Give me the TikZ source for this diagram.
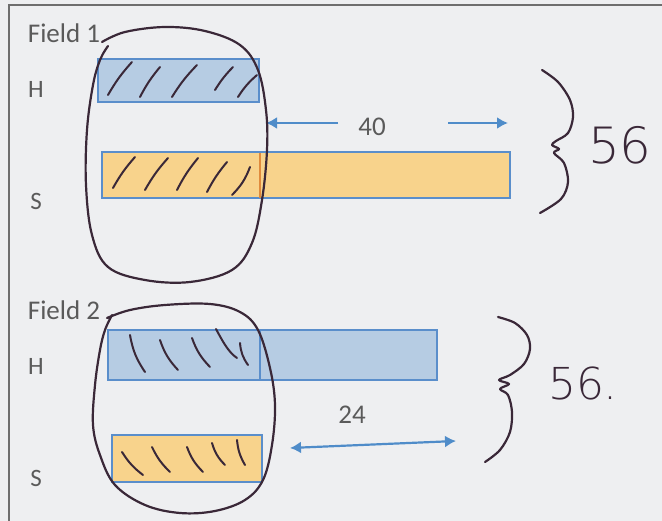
\documentclass[tikz,border=0pt]{standalone}
\usepackage{fontspec}
\setmainfont{Carlito}
\newfontfamily\handfont{DejaVu Sans ExtraLight}
\usetikzlibrary{arrows.meta}
\definecolor{paper}{HTML}{EEEFF1}
\definecolor{frameg}{HTML}{6E6E6E}
\definecolor{txtg}{HTML}{5A5A5A}
\definecolor{hfill}{HTML}{B6CCE3}
\definecolor{sfill}{HTML}{F8D38C}
\definecolor{barline}{HTML}{5A8ECB}
\definecolor{ink}{HTML}{3A2838}
\definecolor{arrowb}{HTML}{4F8CC9}
\definecolor{divor}{HTML}{E08A3C}
\tikzset{
  lbl/.style={text=txtg, inner sep=0pt, font=\fontsize{27}{27}\selectfont},
  rowlbl/.style={text=txtg, inner sep=0pt, font=\fontsize{25}{25}\selectfont},
  numlbl/.style={text=txtg, inner sep=0pt, font=\fontsize{27}{27}\selectfont},
  hbar/.style={draw=barline, fill=hfill, line width=1.6pt, inner sep=0pt, outer sep=0pt, anchor=north west},
  sbar/.style={draw=barline, fill=sfill, line width=1.6pt, inner sep=0pt, outer sep=0pt, anchor=north west},
  barrow/.style={draw=arrowb, line width=2.2pt, -{Latex[length=11pt,width=12pt]}},
  loopline/.style={draw=ink, line width=2.2pt, line cap=round, line join=round},
  hatch/.style={draw=ink, line width=2pt, line cap=round},
  handtxt/.style={text=ink, inner sep=0pt}
}
\begin{document}
\begin{tikzpicture}[x=1pt,y=-1pt]
\useasboundingbox (0,0) rectangle (662,521);
\fill[paper] (0,0) rectangle (662,521);
\draw[frameg, line width=2pt] (9,521) -- (9,5) -- (662,5);

% ---------- Field 1 ----------
\node[lbl] (f1) at (64,33) {Field 1};
\node[rowlbl] (h1lbl) at (36,89) {H};
\node[rowlbl] (s1lbl) at (36,201) {S};
\node[sbar, minimum width=408pt, minimum height=46pt] (s1) at (102,152) {};
\node[hbar, minimum width=161pt, minimum height=43pt] (h1) at (98,59) {};
\draw[divor, line width=1.2pt] (260,153) -- (260,198);

\node[numlbl] (n40) at (372,127) {40};
\coordinate (l40s) at (338,123);
\coordinate (l40e) at (266,123);
\coordinate (r40s) at (448,123);
\coordinate (r40e) at (508,123);
\draw[barrow] (l40s) -- (l40e);
\draw[barrow] (r40s) -- (r40e);

% hatch strokes field 1
\draw[hatch] (108,95) to[bend left=6] (132,62);
\draw[hatch] (140,97) to[bend left=6] (160,67);
\draw[hatch] (172,97) to[bend left=6] (197,65);
\draw[hatch] (215,90) to[bend left=6] (233,67);
\draw[hatch] (238,97) to[bend left=8] (257,75);
\draw[hatch] (113,188) to[bend left=6] (135,157);
\draw[hatch] (145,190) to[bend left=6] (168,158);
\draw[hatch] (177,190) to[bend left=6] (198,158);
\draw[hatch] (207,192) to[bend left=6] (227,162);
\draw[hatch] (232,195) to[bend right=12] (250,167);

% loop field 1
\draw[loopline] plot[smooth, tension=0.6] coordinates {(102,42) (125,32) (165,27) (205,31) (240,45) (258,70) (266,110) (267,150) (262,200) (252,243) (232,270) (190,282) (145,280) (108,267) (92,235) (86,185) (87,130) (93,85) (100,60) (108,46)};

% brace field 1
\draw[loopline] plot[smooth, tension=0.55] coordinates {(542,70) (558,82) (570,100) (573,117) (568,133) (556,141) (552,145) (559,149) (554,153) (564,163) (568,182) (561,199) (540,213)};
\node[handtxt, font=\handfont\fontsize{50}{50}\selectfont] (t56a) at (620,145) {56};

% ---------- Field 2 ----------
\node[lbl] (f2) at (64,310) {Field 2};
\node[rowlbl] (h2lbl) at (36,366) {H};
\node[rowlbl] (s2lbl) at (36,478) {S};
\node[hbar, minimum width=329pt, minimum height=50pt] (h2) at (108,330) {};
\draw[barline, line width=1.2pt] (260,331) -- (260,379);
\node[sbar, minimum width=150pt, minimum height=47pt] (s2) at (112,435) {};

\node[numlbl] (n24) at (352,415) {24};
\coordinate (d24a) at (290,448);
\coordinate (d24b) at (456,441);
\draw[barrow, {Latex[length=11pt,width=12pt]}-{Latex[length=11pt,width=12pt]}] (d24a) -- (d24b);

% hatch strokes field 2
\draw[hatch] (130,335) to[bend right=12] (145,372);
\draw[hatch] (160,340) to[bend right=12] (178,370);
\draw[hatch] (192,338) to[bend right=12] (210,367);
\draw[hatch] (216,329) .. controls (222,340) and (228,352) .. (237,358);
\draw[hatch] (240,343) to[bend right=15] (248,365);
\draw[hatch] (122,452) to[bend right=10] (143,475);
\draw[hatch] (152,447) to[bend right=10] (170,472);
\draw[hatch] (187,447) to[bend right=12] (203,472);
\draw[hatch] (212,443) to[bend right=14] (225,465);
\draw[hatch] (237,440) to[bend right=12] (245,465);

% loop field 2
\draw[loopline] plot[smooth, tension=0.6] coordinates {(107,318) (130,310) (165,305) (210,304) (240,312) (258,330) (270,368) (275,405) (272,445) (263,480) (245,500) (215,511) (180,513) (145,505) (115,485) (100,455) (93,425) (95,385) (100,350) (105,330) (112,315)};

% brace field 2
\draw[loopline] plot[smooth, tension=0.55] coordinates {(498,317) (515,323) (527,335) (530,349) (524,364) (510,375) (499,380) (509,384) (500,389) (508,395) (512,412) (510,432) (500,450) (485,462)};
\node[handtxt, font=\handfont\fontsize{44}{44}\selectfont] (t56b) at (583,383) {56.};
\end{tikzpicture}
\end{document}
